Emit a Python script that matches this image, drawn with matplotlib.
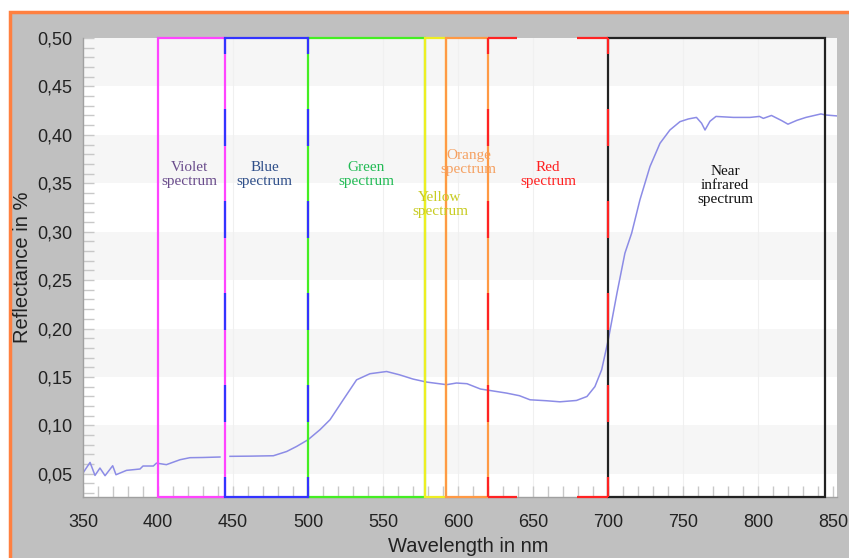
"""
Reflectance spectrum with the visible / NIR bands marked.
"""

import numpy as np
import matplotlib
matplotlib.use("Agg")
import matplotlib.pyplot as plt
from matplotlib.patches import Rectangle
from matplotlib.ticker import MultipleLocator, FuncFormatter

wavelength = [350, 354.7, 358, 361.3, 364.7, 369.8, 372, 379, 388, 390, 396.9, 399,
              405.6, 414.7, 421.3, 430, 441.3, 444, 446, 448, 462, 476.9, 485.8, 492.4,
              500, 508, 514.7, 523.5, 532.4, 541.3, 552.4, 561, 570, 579, 592.4, 599,
              606, 615, 621.3, 632.4, 641, 648, 659, 668, 679, 686, 691.3, 695.8,
              700.2, 706, 711.3, 715.8, 721.3, 728, 734.7, 741.3, 748, 753.6, 759,
              762.4, 764.7, 768, 772, 783.6, 794.7, 801, 803.6, 809, 815.8, 820, 826,
              832, 842, 845, 853]
reflectance = [0.0508, 0.0617, 0.0483, 0.0559, 0.048, 0.0583, 0.049, 0.0535, 0.0549,
               0.058, 0.058, 0.061, 0.0594, 0.0645, 0.0666, 0.0668, 0.0673, np.nan,
               np.nan, 0.068, 0.0682, 0.0686, 0.073, 0.0782, 0.0851, 0.0955, 0.1058,
               0.1264, 0.147, 0.1533, 0.1556, 0.1522, 0.1478, 0.1447, 0.142, 0.1437,
               0.143, 0.1375, 0.136, 0.1333, 0.1306, 0.1264, 0.1254, 0.1243, 0.1257,
               0.1298, 0.140, 0.1574, 0.1884, 0.2365, 0.2778, 0.2985, 0.3328, 0.3672,
               0.3913, 0.405, 0.4136, 0.4164, 0.418, 0.412, 0.405, 0.414, 0.419, 0.418,
               0.418, 0.419, 0.417, 0.420, 0.4147, 0.411, 0.415, 0.418, 0.4216, 0.4205,
               0.4195]

# spectral bands
band_names = ["Violet\nspectrum", "Blue\nspectrum", "Green\nspectrum", "Yellow\nspectrum",
              "Orange\nspectrum", "Red\nspectrum", "Near\ninfrared\nspectrum"]
band_start = [400, 445, 500, 578, 592, 620, 700]
band_end = [445, 500, 578, 592, 620, 700, 845]
edge_colors = ["#ff44ff", "#3333ff", "#44ee22", "#eeee22", "#ff9944", "#ff2222", "#222222"]
text_colors = ["#6a4c8c", "#2f4f8a", "#22bb55", "#c8cc22", "#f5a060", "#ff2020", "#111111"]
label_x = [421, 471, 539, 588, 607, 660, 778]
label_y = [0.359, 0.359, 0.359, 0.328, 0.371, 0.359, 0.348]

y_ticks = [0.05, 0.10, 0.15, 0.20, 0.25, 0.30, 0.35, 0.40, 0.45, 0.50]
x_ticks = [350, 400, 450, 500, 550, 600, 650, 700, 750, 800, 850]

plt.rcParams["lines.scale_dashes"] = False

fig = plt.figure(figsize=(8.49, 5.58), dpi=100, facecolor="white")
# grey frame with the orange border on top and left
frame = Rectangle((10 / 849, -0.01), 1.0, 1 - 11.5 / 558 + 0.01,
                  transform=fig.transFigure, facecolor="#c0c0c0",
                  edgecolor="#ff8040", linewidth=2.5, zorder=-10)
fig.add_artist(frame)

ax = fig.add_axes([83 / 849, 1 - 497 / 558, 754 / 849, 459 / 558])
ax.set_zorder(1)
ax.set_facecolor("white")
ymin, ymax = 0.026, 0.50
ax.set_xlim(350, 352.7 + 500)
ax.set_ylim(ymin, ymax)

# alternating light bands
for lo in [0.05, 0.15, 0.25, 0.35, 0.45]:
    ax.axhspan(lo, lo + 0.05, color="#f6f6f6", zorder=0, lw=0)
for xt in x_ticks[1:-1]:
    ax.axvline(xt, color="#f0f0f0", lw=0.8, zorder=0.5)

ax.plot(wavelength, reflectance, color="#8c8ce6", lw=1.1, zorder=2)

# band outlines: solid ones first, then blue/red dashed on top
px = 0.72
dash = (37 * px, 55 * px)
for i in range(len(band_names)):
    x0, x1 = band_start[i], band_end[i]
    c = edge_colors[i]
    if i in (1, 5):
        continue
    ax.add_patch(Rectangle((x0, ymin), x1 - x0, ymax - ymin, fill=False,
                           edgecolor=c, lw=1.6, zorder=3, clip_on=False))
# blue band
ax.plot([445, 500], [ymax, ymax], color=edge_colors[1], lw=1.6, zorder=3, clip_on=False)
ax.plot([445, 500], [ymin, ymin], color=edge_colors[1], lw=1.6, zorder=3, clip_on=False)
for xv in (445, 500):
    ax.plot([xv, xv], [ymin, ymax], color=edge_colors[1], lw=1.6, zorder=4,
            ls=(17 * px, dash), clip_on=False)
# red band, dashed all round
for xv in (620, 700):
    ax.plot([xv, xv], [ymin, ymax], color=edge_colors[5], lw=1.6, zorder=4,
            ls=(17 * px, dash), clip_on=False)
for yv in (ymin, ymax):
    ax.plot([700, 620], [yv, yv], color=edge_colors[5], lw=1.6, zorder=4,
            ls=(0, (31 * px, 60 * px)), clip_on=False)

for i, name in enumerate(band_names):
    ax.text(label_x[i], label_y[i], name, color=text_colors[i], ha="center",
            va="center", fontsize=11, family="Liberation Serif", linespacing=1.1,
            zorder=5)

# axes styling
for s in ["top", "right"]:
    ax.spines[s].set_visible(False)
for s in ["left", "bottom"]:
    ax.spines[s].set_color("#a0a0a0")
    ax.spines[s].set_linewidth(1.0)

ax.set_xticks(x_ticks)
ax.set_yticks(y_ticks)
ax.xaxis.set_minor_locator(MultipleLocator(10))
ax.yaxis.set_minor_locator(MultipleLocator(0.01))
ax.yaxis.set_major_formatter(FuncFormatter(lambda v, p: f"{v:.2f}".replace(".", ",")))
ax.tick_params(which="both", direction="in", color="#c8c8c8", length=8, width=1)
ax.tick_params(axis="x", which="major", pad=12)
ax.tick_params(axis="y", which="major", pad=8)
for lab in ax.get_xticklabels() + ax.get_yticklabels():
    lab.set_fontsize(13)
    lab.set_family("Liberation Sans")
    lab.set_color("#222222")

ax.set_xlabel("Wavelength in nm", fontsize=14.5, family="Liberation Sans",
              color="#222222", labelpad=4)
ax.xaxis.set_label_coords(0.5 + 8 / 754, -0.088)
ax.set_ylabel("Reflectance in %", fontsize=14.5, family="Liberation Sans",
              color="#222222")
ax.yaxis.set_label_coords(-0.0676, 0.5)

fig.savefig("out.png", dpi=100, facecolor=fig.get_facecolor())
plt.close(fig)
